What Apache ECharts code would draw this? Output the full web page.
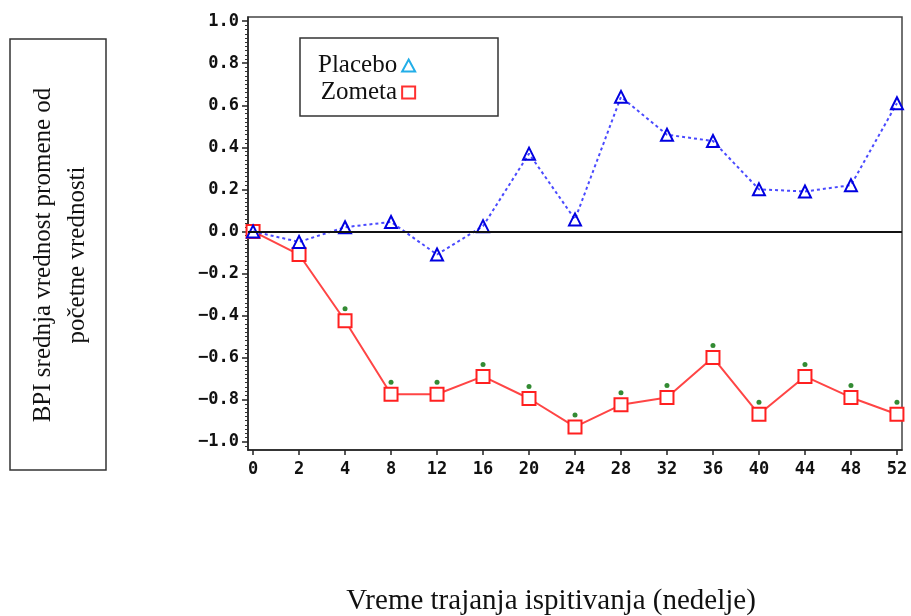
<!DOCTYPE html>
<html>
<head>
<meta charset="utf-8">
<script src="https://cdn.jsdelivr.net/npm/echarts@6/dist/echarts.min.js"></script>
<style>
  html, body { margin: 0; padding: 0; background: #fff; }
  #chart { width: 911px; height: 616px; }
</style>
</head>
<body>
<div id="chart"></div>
<script>
// weeks on the x axis (evenly spaced categories)
const weeks = ['0', '2', '4', '8', '12', '16', '20', '24', '28', '32', '36', '40', '44', '48', '52']
const placebo = [0.0, -0.05, 0.02, 0.045, -0.11, 0.025, 0.37, 0.057, 0.64, 0.46, 0.43, 0.20, 0.19, 0.22, 0.61]
const zometa = [0.0, -0.11, -0.425, -0.775, -0.775, -0.69, -0.795, -0.93, -0.825, -0.79, -0.60, -0.87, -0.69, -0.79, -0.87]
// weeks where Zometa differs significantly (green marks)
const significant = [false, false, true, true, true, true, true, true, true, true, true, true, true, true, true]
const yTicks = [-1.0, -0.8, -0.6, -0.4, -0.2, 0.0, 0.2, 0.4, 0.6, 0.8, 1.0]
const yTickLabels = ['\u22121.0', '\u22120.8', '\u22120.6', '\u22120.4', '\u22120.2', '0.0', '0.2', '0.4', '0.6', '0.8', '1.0']

const xIdx = weeks.map((_, i) => i)
const tickFont = { fontFamily: '"DejaVu Sans Mono", monospace', fontWeight: 'bold', fontSize: 17, color: '#111' }

const chart = echarts.init(document.getElementById('chart'))

chart.setOption({
  animation: false,
  backgroundColor: '#fff',
  grid: {
    left: 248, right: 9, top: 17, bottom: 166,
    show: true, borderColor: '#444', borderWidth: 1.5
  },
  legend: {
    orient: 'vertical',
    left: 313, top: 48,
    align: 'right',
    itemGap: 2,
    itemWidth: 13, itemHeight: 12,
    textStyle: { fontFamily: '"Liberation Serif", serif', fontSize: 25, color: '#111' },
    data: [
      { name: 'Placebo', icon: 'triangle', itemStyle: { color: 'transparent', borderColor: '#22aee8', borderWidth: 2 } },
      { name: 'Zometa', icon: 'rect', itemStyle: { color: 'transparent', borderColor: '#ff3030', borderWidth: 2 } }
    ]
  },
  xAxis: {
    type: 'value',
    min: -0.11, max: 14.11,
    axisLine: { onZero: false, lineStyle: { color: '#222', width: 1.5 } },
    axisTick: { customValues: xIdx, length: 5, lineStyle: { color: '#222', width: 1.5 } },
    axisLabel: {
      customValues: xIdx,
      formatter: v => weeks[Math.round(v)],
      margin: 11,
      ...tickFont
    },
    splitLine: { show: false }
  },
  yAxis: {
    type: 'value',
    min: -1.04, max: 1.02,
    splitNumber: 10,
    axisLine: { show: true, onZero: false, lineStyle: { color: '#222', width: 1.5 } },
    axisTick: { customValues: yTicks, length: 6, lineStyle: { color: '#222', width: 1.5 } },
    minorTick: { show: true, splitNumber: 10, length: 3, lineStyle: { color: '#333', width: 1 } },
    axisLabel: {
      customValues: yTicks,
      formatter: v => yTickLabels[yTicks.findIndex(t => Math.abs(t - v) < 1e-6)],
      margin: 9,
      ...tickFont
    },
    splitLine: { show: false }
  },
  graphic: [
    {
      type: 'rect',
      shape: { x: 10, y: 39, width: 96, height: 431 },
      style: { fill: 'none', stroke: '#333', lineWidth: 1.5 }
    },
    {
      type: 'text',
      x: 60, y: 255,
      rotation: Math.PI / 2,
      style: {
        text: 'BPI srednja vrednost promene od\npočetne vrednosti',
        align: 'center', verticalAlign: 'middle',
        font: '25px "Liberation Serif", serif',
        lineHeight: 34,
        fill: '#111'
      }
    },
    {
      type: 'rect',
      shape: { x: 300, y: 38, width: 198, height: 78 },
      style: { fill: 'none', stroke: '#333', lineWidth: 1.5 }
    },
    {
      type: 'text',
      x: 551, y: 601,
      style: {
        text: 'Vreme trajanja ispitivanja (nedelje)',
        align: 'center', verticalAlign: 'middle',
        font: '29px "Liberation Serif", serif',
        fill: '#111'
      }
    }
  ],
  series: [
    {
      name: 'Zometa',
      type: 'line',
      data: zometa.map((v, i) => [i, v]),
      symbol: 'rect',
      symbolSize: 13,
      lineStyle: { color: '#ff4545', width: 2 },
      itemStyle: { color: '#fff', borderColor: '#ff2020', borderWidth: 2 },
      markLine: {
        silent: true,
        symbol: 'none',
        label: { show: false },
        lineStyle: { color: '#111', type: 'solid', width: 2 },
        data: [{ yAxis: 0 }]
      },
      z: 2
    },
    {
      name: 'Signif',
      type: 'scatter',
      data: zometa.map((v, i) => [i, v]).filter((_, i) => significant[i]),
      symbol: 'circle',
      symbolSize: 5,
      symbolOffset: [0, -12],
      itemStyle: { color: '#006e00' },
      z: 3
    },
    {
      name: 'Placebo',
      type: 'line',
      data: placebo.map((v, i) => [i, v]),
      symbol: 'triangle',
      symbolSize: 12,
      lineStyle: { color: '#4a4aff', width: 2, type: [3, 3] },
      itemStyle: { color: 'transparent', borderColor: '#0000e0', borderWidth: 2 },
      z: 4
    }
  ]
})
</script>
</body>
</html>
